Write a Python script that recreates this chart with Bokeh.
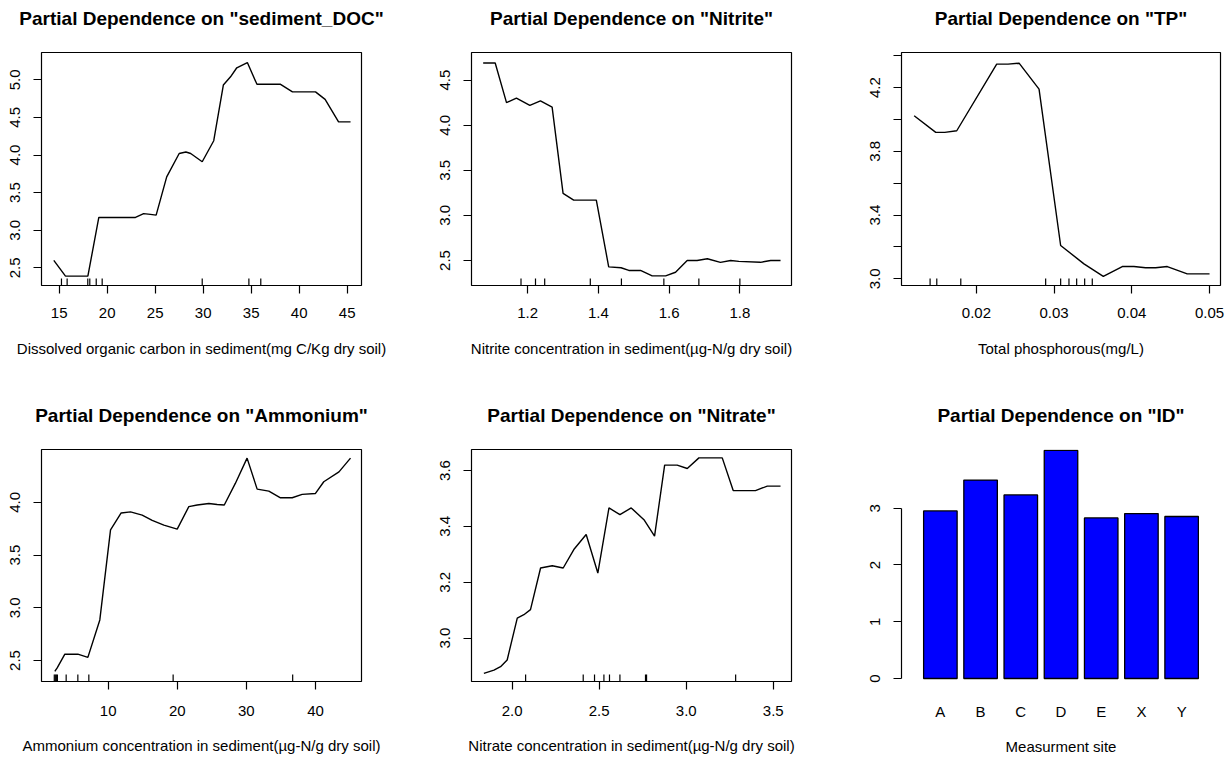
import math
from bokeh.plotting import figure
from bokeh.models import Range1d, FixedTicker, PrintfTickFormatter, FactorRange, LinearAxis
from bokeh.layouts import row, column
from bokeh.embed import file_html
from bokeh.resources import INLINE

FONT = "Liberation Sans"

# ---- data: sediment_DOC ----
doc_x = [14.44, 15.66, 17.99, 19.13, 22.95, 23.8, 24.5, 25.1, 26.2, 27.5, 28.2, 28.7, 29.9,
         31.1, 32.1, 32.85, 33.5, 34.6, 35.6, 38.06, 39.3, 41.7, 42.7, 44.1, 45.35]
doc_y = [2.60, 2.39, 2.39, 3.17, 3.17, 3.22, 3.21, 3.20, 3.71, 4.02, 4.04, 4.02, 3.91,
         4.19, 4.93, 5.04, 5.16, 5.23, 4.94, 4.94, 4.84, 4.84, 4.74, 4.44, 4.44]
doc_rug = [15.24, 15.83, 17.98, 18.19, 18.86, 19.48, 29.9, 34.76, 36.0]
doc_xticks = [15, 20, 25, 30, 35, 40, 45]
doc_yticks = [2.5, 3.0, 3.5, 4.0, 4.5, 5.0]

# ---- data: Nitrite ----
nitrite_x = [1.074, 1.108, 1.140, 1.168, 1.206, 1.236, 1.269, 1.300, 1.330, 1.394, 1.429, 1.464,
             1.486, 1.519, 1.552, 1.590, 1.618, 1.651, 1.679, 1.708, 1.745, 1.774, 1.797, 1.858,
             1.887, 1.915]
nitrite_y = [4.69, 4.69, 4.25, 4.30, 4.22, 4.27, 4.20, 3.245, 3.17, 3.17, 2.43, 2.42,
             2.39, 2.39, 2.33, 2.33, 2.37, 2.50, 2.50, 2.52, 2.48, 2.50, 2.49, 2.48,
             2.50, 2.50]
nitrite_rug = [1.181, 1.222, 1.248, 1.377, 1.465, 1.585, 1.684, 1.800]
nitrite_xticks = [1.2, 1.4, 1.6, 1.8]
nitrite_yticks = [2.5, 3.0, 3.5, 4.0, 4.5]

# ---- data: TP ----
tp_x = [0.01199, 0.01477, 0.01593, 0.01747, 0.02261, 0.02407, 0.02549, 0.02806, 0.03084,
        0.03384, 0.03633, 0.03877, 0.04027, 0.04177, 0.04306, 0.04456, 0.04713, 0.05]
tp_y = [4.023, 3.919, 3.919, 3.929, 4.347, 4.347, 4.353, 4.19, 3.209,
        3.094, 3.015, 3.077, 3.077, 3.069, 3.069, 3.077, 3.031, 3.031]
tp_rug = [0.01404, 0.0149, 0.01799, 0.02891, 0.03084, 0.03191, 0.03290, 0.03393, 0.03491]
tp_xticks = [0.02, 0.03, 0.04, 0.05]
tp_yticks = [3.0, 3.4, 3.8, 4.2]
tp_yminor = [3.2, 3.6, 4.0, 4.4]

# ---- data: Ammonium ----
amm_x = [2.28, 2.62, 3.73, 5.61, 7.06, 8.79, 10.34, 11.88, 13.23, 14.92, 16.37, 18.06, 19.99,
         21.67, 22.88, 24.57, 25.77, 26.8, 28.4, 30.1, 31.56, 33.25, 34.94, 36.63, 38.07,
         40.0, 41.2, 43.4, 45.07]
amm_y = [2.396, 2.43, 2.56, 2.56, 2.53, 2.885, 3.74, 3.90, 3.91, 3.88, 3.83, 3.785, 3.747,
         3.96, 3.975, 3.99, 3.98, 3.975, 4.18, 4.42, 4.126, 4.107, 4.044, 4.044, 4.076,
         4.085, 4.196, 4.29, 4.42]
amm_rug = [2.2, 2.35, 2.5, 2.65, 3.92, 5.61, 7.2, 19.4, 36.7]
amm_xticks = [10, 20, 30, 40]
amm_yticks = [2.5, 3.0, 3.5, 4.0]

# ---- data: Nitrate ----
nitrate_x = [1.837, 1.895, 1.933, 1.971, 2.029, 2.067, 2.105, 2.163, 2.230, 2.293, 2.354, 2.425,
             2.492, 2.556, 2.619, 2.684, 2.757, 2.818, 2.876, 2.948, 3.006, 3.073, 3.207, 3.270,
             3.398, 3.466, 3.542]
nitrate_y = [2.874, 2.886, 2.898, 2.922, 3.072, 3.084, 3.102, 3.251, 3.259, 3.251, 3.317, 3.371,
             3.233, 3.466, 3.442, 3.466, 3.424, 3.365, 3.619, 3.619, 3.607, 3.645, 3.645, 3.528,
             3.528, 3.544, 3.544]
nitrate_rug = [2.077, 2.408, 2.473, 2.527, 2.559, 2.619, 2.766, 2.772, 3.284]
nitrate_xticks = [2.0, 2.5, 3.0, 3.5]
nitrate_yticks = [3.0, 3.2, 3.4, 3.6]

# ---- data: ID ----
sites = ["A", "B", "C", "D", "E", "X", "Y"]
id_values = [2.953, 3.497, 3.234, 4.018, 2.830, 2.906, 2.854]
id_yticks = [0, 1, 2, 3]


def add_title(p, title):
    # the title is drawn as the label of an empty axis above the frame
    p.title.visible = False
    ta = LinearAxis(ticker=FixedTicker(ticks=[]), axis_label=title)
    ta.axis_line_color = None
    ta.major_tick_out = 0
    ta.major_tick_in = 0
    ta.minor_tick_out = 0
    ta.minor_tick_in = 0
    ta.major_tick_line_color = None
    ta.minor_tick_line_color = None
    ta.major_label_standoff = 0
    ta.major_label_text_font_size = "0px"
    ta.axis_label_standoff = 24
    ta.axis_label_text_font = FONT
    ta.axis_label_text_font_size = "19px"
    ta.axis_label_text_font_style = "bold"
    ta.axis_label_text_color = "black"
    p.add_layout(ta, "above")
    p.xgrid.visible = False
    p.ygrid.visible = False
    p.background_fill_color = "white"
    p.border_fill_color = "white"


def style_axis(ax, label_fmt, ticks, minor=None, vertical=False, standoff=10):
    ax.ticker = FixedTicker(ticks=ticks, minor_ticks=minor or [])
    ax.formatter = PrintfTickFormatter(format=label_fmt)
    ax.axis_line_color = None
    ax.major_tick_out = 8
    ax.major_tick_in = 0
    ax.major_tick_line_color = "black"
    ax.major_tick_line_width = 1.2
    if minor:
        ax.minor_tick_out = 8
        ax.minor_tick_in = 0
        ax.minor_tick_line_color = "black"
        ax.minor_tick_line_width = 1.2
    else:
        ax.minor_tick_line_color = None
    ax.major_label_text_font = FONT
    ax.major_label_text_font_size = "15px"
    ax.major_label_text_color = "black"
    ax.major_label_standoff = standoff
    if vertical:
        ax.major_label_orientation = "vertical"
    ax.axis_label_text_font = FONT
    ax.axis_label_text_font_size = "15px"
    ax.axis_label_text_font_style = "normal"
    ax.axis_label_text_color = "black"


def pd_panel(title, xlabel, xs, ys, rug, xr, yr, xticks, xfmt, yticks, yfmt,
             width, height, bl, br, bt, bb, yminor=None, tick_standoff=14, label_standoff=19):
    p = figure(width=width, height=height, x_range=Range1d(*xr), y_range=Range1d(*yr),
               output_backend="svg", toolbar_location=None)
    p.min_border = 0
    p.min_border_left = bl
    p.min_border_right = br
    p.min_border_top = bt
    p.min_border_bottom = bb
    p.outline_line_color = "black"
    p.outline_line_width = 1.2
    p.outline_line_alpha = 1.0
    xax = p.below[0]
    yax = p.left[0]
    style_axis(xax, xfmt, xticks, standoff=tick_standoff)
    style_axis(yax, yfmt, yticks, minor=yminor, vertical=True, standoff=13)
    xax.axis_label = xlabel
    xax.axis_label_standoff = label_standoff
    p.line(xs, ys, line_color="black", line_width=1.4)
    p.ray(x=rug, y=[yr[0]] * len(rug), length=7, length_units="screen",
          angle=math.pi / 2, line_color="black", line_width=1.2)
    add_title(p, title)
    return p


TOP_H = 378
BOT_H = 379
BT1 = 52
BB1 = TOP_H - BT1 - 233
BT2 = 449 - TOP_H
BB2 = BOT_H - BT2 - 233

p1 = pd_panel('Partial Dependence on "sediment_DOC"',
              "Dissolved organic carbon in sediment(mg C/Kg dry soil)",
              doc_x, doc_y, doc_rug, (13.16, 46.49), (2.265, 5.363),
              doc_xticks, "%d", doc_yticks, "%.1f",
              410, TOP_H, 41, 49, BT1, BB1)
p2 = pd_panel('Partial Dependence on "Nitrite"',
              "Nitrite concentration in sediment(\u00b5g-N/g dry soil)",
              nitrite_x, nitrite_y, nitrite_rug, (1.041, 1.946), (2.223, 4.806),
              nitrite_xticks, "%.1f", nitrite_yticks, "%.1f",
              410, TOP_H, 61, 29, BT1, BB1)
p3 = pd_panel('Partial Dependence on "TP"',
              "Total phosphorous(mg/L)",
              tp_x, tp_y, tp_rug, (0.01036, 0.05141), (2.958, 4.42),
              tp_xticks, "%.2f", tp_yticks, "%.1f",
              410, TOP_H, 81, 10, BT1, BB1, yminor=tp_yminor)

p4 = pd_panel('Partial Dependence on "Ammonium"',
              "Ammonium concentration in sediment(\u00b5g-N/g dry soil)",
              amm_x, amm_y, amm_rug, (0.35, 46.66), (2.301, 4.502),
              amm_xticks, "%d", amm_yticks, "%.1f",
              410, BOT_H, 41, 49, BT2, BB2, tick_standoff=16, label_standoff=18)
p5 = pd_panel('Partial Dependence on "Nitrate"',
              "Nitrate concentration in sediment(\u00b5g-N/g dry soil)",
              nitrate_x, nitrate_y, nitrate_rug, (1.766, 3.605), (2.845, 3.675),
              nitrate_xticks, "%.1f", nitrate_yticks, "%.1f",
              410, BOT_H, 61, 29, BT2, BB2, tick_standoff=16, label_standoff=18)

p6 = figure(width=410, height=BOT_H,
            x_range=FactorRange(factors=sites, factor_padding=0.2, range_padding=0.66,
                                range_padding_units="absolute"),
            y_range=Range1d(-0.053, 4.035),
            output_backend="svg", toolbar_location=None)
p6.min_border = 0
p6.min_border_left = 81
p6.min_border_right = 10
p6.min_border_top = BT2
p6.min_border_bottom = BB2
p6.outline_line_color = None
p6.vbar(x=sites, top=id_values, bottom=0, width=1.0, fill_color="#0000FF",
        line_color="black", line_width=1.3)
ya = p6.left[0]
style_axis(ya, "%d", id_yticks, vertical=True, standoff=13)
ya.axis_line_color = "black"
ya.axis_line_width = 1.2
ya.bounds = (0, 3)
xa = p6.below[0]
xa.axis_line_color = None
xa.major_tick_line_color = None
xa.minor_tick_line_color = None
xa.major_tick_out = 0
xa.major_label_text_font = FONT
xa.major_label_text_font_size = "15px"
xa.major_label_text_color = "black"
xa.major_label_standoff = 21
xa.axis_label = "Measurment site"
xa.axis_label_text_font = FONT
xa.axis_label_text_font_size = "15px"
xa.axis_label_text_font_style = "normal"
xa.axis_label_text_color = "black"
xa.axis_label_standoff = 15
add_title(p6, 'Partial Dependence on "ID"')

layout = column(row(p1, p2, p3), row(p4, p5, p6))
open("out.html", "w").write(file_html(layout, INLINE))
